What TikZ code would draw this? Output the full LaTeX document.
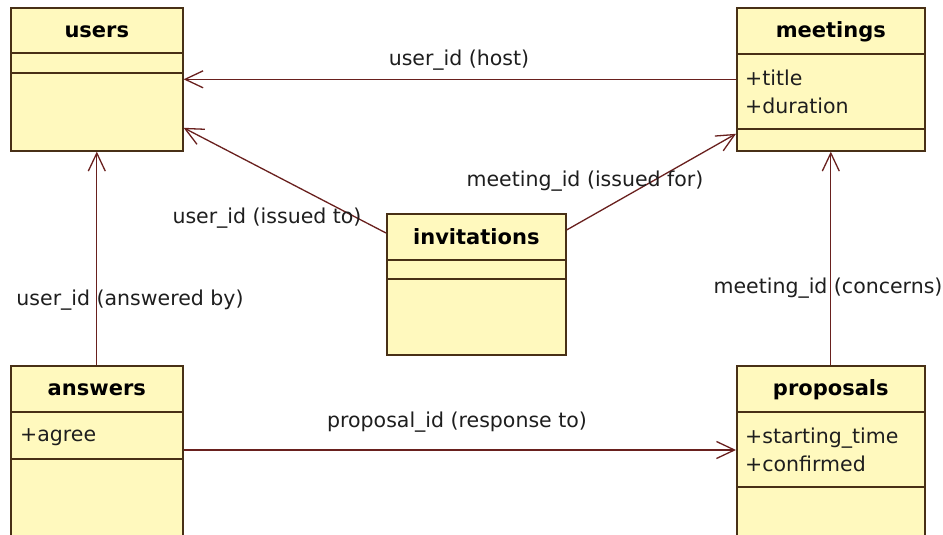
\documentclass[tikz,border=0pt]{standalone}
\usepackage{fontspec}
\setmainfont{DejaVu Sans}
\usetikzlibrary{arrows.meta,calc}

\definecolor{classfill}{RGB}{255,249,190}
\definecolor{classedge}{RGB}{72,48,22}
\definecolor{assocline}{RGB}{105,32,30}
\definecolor{labeltext}{RGB}{30,30,30}

\tikzset{
  classbox/.style={draw=classedge, fill=classfill, line width=1.6pt,
    rectangle, anchor=north west, inner sep=0pt},
  sepline/.style={draw=classedge, line width=1.6pt},
  classname/.style={font=\fontsize{21}{25}\selectfont\bfseries, text=black, inner sep=0pt},
  attrs/.style={font=\fontsize{20.5}{28}\selectfont, text=labeltext, align=left,
    anchor=west, inner sep=0pt},
  assoclabel/.style={font=\fontsize{20.5}{25}\selectfont, text=labeltext, inner sep=0pt},
  assoc/.style={draw=assocline, line width=1.3pt,
    -{Straight Barb[length=18pt,width=17pt,line width=1.3pt]}},
}

\begin{document}
\begin{tikzpicture}[x=1pt, y=-1pt]
  \useasboundingbox (0,0) rectangle (943,535);
  \fill[white] (0,0) rectangle (943,535);
  \clip (0,0) rectangle (943,535);

  % ---- class boxes ----
  \node[classbox, minimum width=172pt, minimum height=143pt] (users) at (10,7) {};
  \node[classbox, minimum width=188pt, minimum height=143pt] (meetings) at (736,7) {};
  \node[classbox, minimum width=179pt, minimum height=141pt] (invitations) at (386,213) {};
  \node[classbox, minimum width=172pt, minimum height=200pt] (answers) at (10,365) {};
  \node[classbox, minimum width=188pt, minimum height=200pt] (proposals) at (736,365) {};

  % compartment separators
  \draw[sepline] ($(users.north west)+(0,46)$) -- ($(users.north east)+(0,46)$);
  \draw[sepline] ($(users.north west)+(0,66)$) -- ($(users.north east)+(0,66)$);
  \draw[sepline] ($(meetings.north west)+(0,47)$) -- ($(meetings.north east)+(0,47)$);
  \draw[sepline] ($(meetings.north west)+(0,122)$) -- ($(meetings.north east)+(0,122)$);
  \draw[sepline] ($(invitations.north west)+(0,47)$) -- ($(invitations.north east)+(0,47)$);
  \draw[sepline] ($(invitations.north west)+(0,66)$) -- ($(invitations.north east)+(0,66)$);
  \draw[sepline] ($(answers.north west)+(0,47)$) -- ($(answers.north east)+(0,47)$);
  \draw[sepline] ($(answers.north west)+(0,94)$) -- ($(answers.north east)+(0,94)$);
  \draw[sepline] ($(proposals.north west)+(0,47)$) -- ($(proposals.north east)+(0,47)$);
  \draw[sepline] ($(proposals.north west)+(0,122)$) -- ($(proposals.north east)+(0,122)$);

  % class names
  \node[classname] (users-name) at ($(users.north)+(0,25)$) {users};
  \node[classname] (meetings-name) at ($(meetings.north)+(0,25)$) {meetings};
  \node[classname] (invitations-name) at ($(invitations.north)+(0,24)$) {invitations};
  \node[classname] (answers-name) at ($(answers.north)+(0,25)$) {answers};
  \node[classname] (proposals-name) at ($(proposals.north)+(0,25)$) {proposals};

  % attributes
  \node[attrs] (meetings-attrs) at (745,92) {+title\\+duration};
  \node[attrs] (answers-attrs) at (20,437) {+agree};
  \node[attrs] (proposals-attrs) at (745,450) {+starting\_time\\+confirmed};

  % ---- associations ----
  \draw[assoc] (meetings.west) -- (users.east);
  \draw[assoc] ([yshift=-20pt]invitations.north west) -- ([yshift=-48.5pt]users.east);
  \draw[assoc] ([yshift=-17pt]invitations.north east) -- ([yshift=-54.5pt]meetings.west);
  \draw[assoc] (answers.north) -- (users.south);
  \draw[assoc] (proposals.north) -- (meetings.south);
  \draw[assoc] ([yshift=-85pt]answers.north east) -- ([yshift=-85pt]proposals.north west);

  % association labels
  \node[assoclabel] (lbl-host) at (459,60) {user\_id (host)};
  \node[assoclabel] (lbl-issuedto) at (267,218) {user\_id (issued to)};
  \node[assoclabel] (lbl-issuedfor) at (585,181) {meeting\_id (issued for)};
  \node[assoclabel] (lbl-answered) at (130,300) {user\_id (answered by)};
  \node[assoclabel] (lbl-concerns) at (828,288) {meeting\_id (concerns)};
  \node[assoclabel] (lbl-response) at (457,422) {proposal\_id (response to)};
\end{tikzpicture}
\end{document}
